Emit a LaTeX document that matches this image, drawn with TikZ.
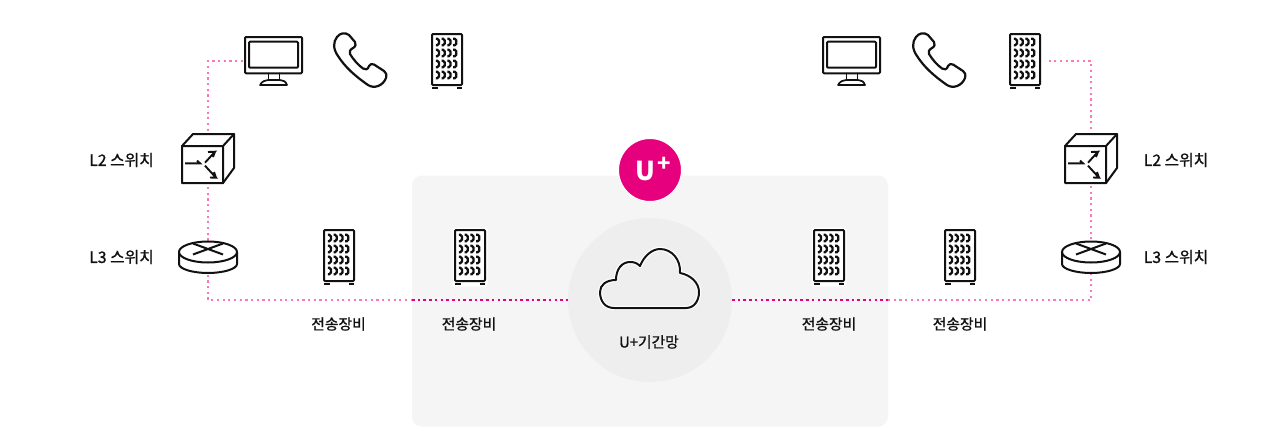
\documentclass[tikz,border=0pt]{standalone}
\usepackage{fontspec}
\setmainfont{Noto Sans CJK KR}
\newfontfamily\labfont[RawFeature={embolden=1.1}]{Noto Sans CJK KR}
\definecolor{panelgray}{HTML}{F5F5F5}
\definecolor{discgray}{HTML}{EEEEEE}
\definecolor{lgmag}{HTML}{E6007E}
\definecolor{softpink}{HTML}{F779B6}
\definecolor{ink}{HTML}{111111}
\tikzset{
  x=1pt,y=-1pt,
  anchorbox/.style={inner sep=0pt,outer sep=0pt,minimum width=#1,minimum height=#1},
  softdots/.style={softpink,line width=2.1pt,dash pattern=on 2.2pt off 3.5pt},
  strongdots/.style={lgmag,line width=2.3pt,dash pattern=on 2.6pt off 3.1pt},
  lab/.style={font=\labfont\fontsize{14.8}{16}\selectfont,text=ink,inner sep=0pt},
  widelab/.style={font=\labfont\fontsize{15.8}{16}\selectfont,text=ink,inner sep=0pt},
  icon/.style={draw=ink,line width=2pt,line join=round,line cap=round},
  server/.pic={
    \fill[white,rounded corners=2pt] (-17.5,-29.5) rectangle (17.5,29.5);
    \draw[icon,fill=white,rounded corners=1pt] (-15,-27) rectangle (15,24);
    \foreach \r in {-19,-8,3,14}{
      \foreach \c in {-9,-3.2,2.6,8.4}{
        \draw[ink,line width=2.3pt,line cap=butt,rounded corners=1.6pt] (\c-2.2,\r-3.2) -- (\c+0.9,\r-3.2) -- (\c+0.9,\r+3.2) -- (\c-2.2,\r+3.2);
      }
    }
    \fill[ink] (-15,25.5) rectangle (-9.5,27.8);
    \fill[ink] (9.5,25.5) rectangle (15,27.8);
  },
  monitor/.pic={
    \draw[icon,fill=white,rounded corners=1pt] (-28,-19) rectangle (29,17.3);
    \draw[icon,rounded corners=1pt] (-24,-14.3) rectangle (25,11.7);
    \draw[icon,line width=1.6pt] (-4.5,17.3) -- (-4.5,24) (6.5,17.3) -- (6.5,24);
    \draw[icon,line width=1.7pt] (-13,29) .. controls (-11,25.5) and (-8,24) .. (-5,24) -- (7,24) .. controls (10,24) and (13,25.5) .. (14,29) -- cycle;
  },
  phone/.pic={
    \draw[icon,line width=2.2pt,fill=white] (-23,-24) .. controls (-27,-19) and (-27,-12) .. (-22,-5)
      .. controls (-15,6) and (-5,15) .. (8,24)
      .. controls (14,28) and (23,25) .. (26,17)
      .. controls (27,13) and (26,12) .. (24,10)
      -- (14,3.5) .. controls (12,2.5) and (10,3) .. (9,5)
      .. controls (8,9) and (5,9) .. (3,7.5)
      .. controls (-2,4) and (-7,-2) .. (-10,-7)
      .. controls (-11,-10) and (-10,-11) .. (-7,-13)
      .. controls (-4,-14.5) and (-4,-17) .. (-5,-19)
      -- (-11,-26) .. controls (-15,-29) and (-20,-28) .. (-23,-24) -- cycle;
  },
  ltwobox/.pic={
    \draw[icon,fill=white] (-26,-12) -- (-15,-24) -- (26,-24) -- (26,10) -- (15,25) -- (-26,25) -- cycle;
    \draw[icon] (-26,-12) -- (15,-12) -- (15,25) (15,-12) -- (26,-24);
    \draw[ink,line width=1.9pt] (-23,5.3) -- (-8,5.3) -- (-11,2.6);
    \draw[ink,line width=1.9pt] (-3,4.7) -- (7,-6.3) -- (0,-6) (7,-6.3) -- (5,-1);
    \draw[ink,line width=1.9pt] (-3,7.7) -- (8,19.7) -- (2,19.5) (8,19.7) -- (6,14);
  },
  router/.pic={
    \draw[icon,fill=white] (-29,-5) -- (-29,7) .. controls (-29,12) and (-15,16) .. (0,16) .. controls (15,16) and (29,12) .. (29,7) -- (29,-5);
    \draw[icon,fill=white] (0,-5) ellipse [x radius=29,y radius=10.5];
    \draw[ink,line width=2pt] (-15,-13.5) -- (15,-2.5) (15,-13.5) -- (-15,-2.5);
  },
  cloudshape/.pic={
    \def\cloudpath{(-36,8) .. controls (-45,8) and (-50,1) .. (-50,-8)
      .. controls (-50,-15) and (-44,-20) .. (-34,-20)
      .. controls (-34,-31) and (-28,-38) .. (-20,-38)
      .. controls (-16,-38) and (-13,-37) .. (-10,-34)
      .. controls (-6,-44) and (2,-51) .. (10,-51)
      .. controls (22,-51) and (31,-40) .. (30,-27)
      .. controls (41,-25) and (49,-17) .. (49,-8)
      .. controls (49,1) and (44,8) .. (36,8) -- cycle}
    \draw[white,line width=4.4pt,line join=round] \cloudpath;
    \draw[ink,line width=2pt,line join=round] \cloudpath;
  },
}
\begin{document}
\begin{tikzpicture}
\useasboundingbox (0,0) rectangle (1280,442);
\fill[white] (0,0) rectangle (1280,442);
% panel and discs
\node[fill=panelgray,rounded corners=10pt,inner sep=0pt,minimum width=476pt,minimum height=251pt] (panel) at (650,301) {};
\node[circle,fill=discgray,inner sep=0pt,minimum size=164pt] (disc) at (650,300) {};
\node[circle,fill=lgmag,draw=white,line width=1pt,inner sep=0pt,minimum size=63pt] (logo) at (650,170) {};
\node[inner sep=0pt,text=white,font=\fontsize{26}{26}\selectfont\bfseries] (logoU) at (645.5,171) {U};
\node[inner sep=0pt,text=white,font=\fontsize{22}{22}\selectfont\bfseries] (logoP) at (664,164) {+};
% anchors
\node[anchorbox=1pt] (monL) at (273,56) {};
\node[anchorbox=1pt] (phoneL) at (360,61) {};
\node[anchorbox=1pt] (srvLa) at (447,61) {};
\node[anchorbox=1pt] (monR) at (851,56) {};
\node[anchorbox=1pt] (phoneR) at (939,61) {};
\node[anchorbox=1pt] (srvRa) at (1025,61) {};
\node[anchorbox=1pt] (swL) at (208,158) {};
\node[anchorbox=1pt] (swR) at (1091,158) {};
\node[anchorbox=1pt] (rtL) at (208,257) {};
\node[anchorbox=1pt] (rtR) at (1091,257) {};
\node[anchorbox=1pt] (srvLb) at (339,257) {};
\node[anchorbox=1pt] (srvLc) at (470,257) {};
\node[anchorbox=1pt] (srvRc) at (829,257) {};
\node[anchorbox=1pt] (srvRb) at (960,257) {};
\coordinate (cornerTL) at (208,61);
\coordinate (cornerBL) at (208,300);
\coordinate (cornerTR) at (1091,61);
\coordinate (cornerBR) at (1091,300);
\coordinate (panelL) at (412,300);
\coordinate (panelR) at (888,300);
\coordinate (discL) at (568,300);
\coordinate (discR) at (732,300);
\coordinate (monLe) at (243,61);
\coordinate (srvRe) at (1045,61);
% connectors
\draw[softdots] (monLe) -- (cornerTL) -- (swL);
\draw[softdots] (swL) -- (rtL);
\draw[softdots] (rtL) -- (cornerBL) -- (panelL);
\draw[strongdots] (panelL) -- (discL);
\draw[strongdots] (discR) -- (panelR);
\draw[softdots] (panelR) -- (cornerBR) -- (rtR);
\draw[softdots] (rtR) -- (swR);
\draw[softdots] (swR) -- (cornerTR) -- (srvRe);
% icons
\pic at (monL) {monitor};
\pic at (phoneL) {phone};
\pic at (srvLa) {server};
\pic at (monR) {monitor};
\pic at (phoneR) {phone};
\pic at (srvRa) {server};
\pic at (swL) {ltwobox};
\pic at (swR) {ltwobox};
\pic at (rtL) {router};
\pic at (rtR) {router};
\pic at (srvLb) {server};
\pic at (srvLc) {server};
\pic at (srvRc) {server};
\pic at (srvRb) {server};
\pic at (disc) {cloudshape};
% labels
\node[widelab] (tL2L) at (121.5,160) {L2 스위치};
\node[widelab] (tL3L) at (121.5,257) {L3 스위치};
\node[widelab] (tL2R) at (1176,160) {L2 스위치};
\node[widelab] (tL3R) at (1176,257) {L3 스위치};
\node[lab] (t1) at (338.5,324) {전송장비};
\node[lab] (t2) at (469,324) {전송장비};
\node[lab] (t3) at (829,324) {전송장비};
\node[lab] (t4) at (960,324) {전송장비};
\node[lab] (tCore) at (649,342) {U+기간망};
\end{tikzpicture}
\end{document}
